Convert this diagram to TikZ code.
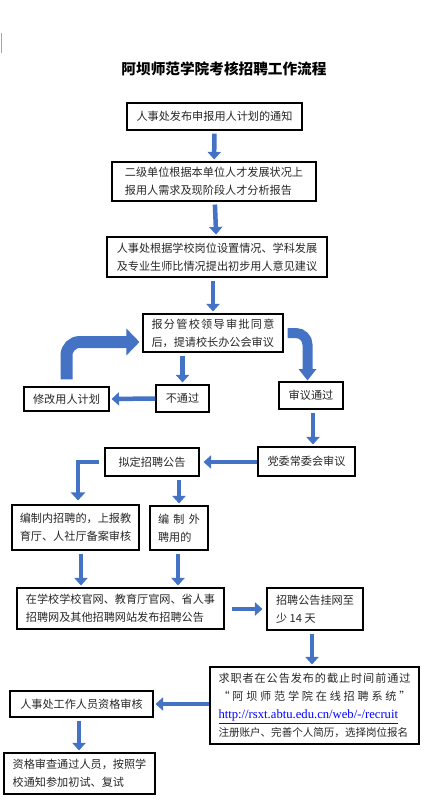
\documentclass[tikz,border=0pt]{standalone}
\usepackage{fontspec}
\usetikzlibrary{arrows.meta}
\newfontfamily\cjk{Noto Sans CJK SC}
\newfontfamily\urlfont{Liberation Serif}
\definecolor{arrowBlue}{HTML}{4472C4}
\newlength\pxu
\setlength\pxu{0.3mm}
\newcommand\spreadline[2]{\makebox[#1][s]{\spaceskip=0pt plus 1fil\relax #2}}

\begin{document}
\begin{tikzpicture}[x=\pxu,y=-\pxu,%%
  font=\cjk\fontsize{9.5}{15.3}\selectfont,%%
  boxStyle/.style={draw=black,line width=0.9pt,align=left,inner sep=0pt,text=black!85},%%
  arrowStyle/.style={draw=arrowBlue,line width=1.35mm,shorten <=3\pxu,shorten >=2\pxu,%%
    -{Triangle[width=3.9mm,length=2.25mm]}},%%
  bentLeftStyle/.style={draw=arrowBlue,line width=3.6mm,rounded corners=4mm,%%
    -{Triangle[width=7.8mm,length=3.9mm]}},%%
  bentRightStyle/.style={draw=arrowBlue,line width=3mm,rounded corners=3.5mm,%%
    -{Triangle[width=5.1mm,length=3.4mm]}},%%
  elbowStyle/.style={draw=arrowBlue,line width=1.35mm,%%
    -{Triangle[width=4.2mm,length=2.4mm]}}
]
\useasboundingbox (0,0) rectangle (444,801);
\draw[black!35,line width=0.6pt] (1.5,33) -- (1.5,53);
%%
%% Title.
\node[font=\cjk\bfseries\fontsize{12.5}{15}\selectfont] (title) at (224,69) {阿坝师范学院考核招聘工作流程};
%%
%% Main column.
\node[boxStyle,minimum width=175\pxu,minimum height=27\pxu] (notice) at (214.5,116.5)
  {人事处发布申报用人计划的通知};
\node[boxStyle,minimum width=204\pxu,minimum height=39\pxu] (report) at (214,181.5)
  {二级单位根据本单位人才发展状况上\\报用人需求及现阶段人才分析报告};
\node[boxStyle,minimum width=220\pxu,minimum height=40\pxu] (propose) at (217,257)
  {人事处根据学校岗位设置情况、学科发展\\及专业生师比情况提出初步用人意见建议};
\node[boxStyle,minimum width=140\pxu,minimum height=38\pxu] (approve) at (213,333)
  {\spreadline{123\pxu}{报 分 管 校 领 导 审 批 同 意}\\后，提请校长办公会审议};
%%
%% Rejected / passed.
\node[boxStyle,minimum width=53\pxu,minimum height=27\pxu] (reject) at (182.5,398.5) {不通过};
\node[boxStyle,minimum width=85\pxu,minimum height=24\pxu] (revise) at (66.5,399) {修改用人计划};
\node[boxStyle,minimum width=64\pxu,minimum height=27\pxu] (passed) at (311,395.5) {审议通过};
\node[boxStyle,minimum width=97\pxu,minimum height=29\pxu] (committee) at (306.5,461.5) {党委常委会审议};
\node[boxStyle,minimum width=94\pxu,minimum height=28\pxu] (draft) at (152,462) {拟定招聘公告};
%%
%% Inner and outer posts.
\node[boxStyle,minimum width=127\pxu,minimum height=45\pxu] (inner) at (75.5,527.5)
  {编制内招聘的，上报教\\育厅、人社厅备案审核};
\node[boxStyle,minimum width=58\pxu,minimum height=44\pxu] (outer) at (179,528)
  {\spreadline{42\pxu}{编 制 外}\\聘用的};
\node[boxStyle,minimum width=207\pxu,minimum height=41\pxu] (publish) at (120.5,608.5)
  {在学校学校官网、教育厅官网、省人事\\招聘网及其他招聘网站发布招聘公告};
\node[boxStyle,minimum width=96\pxu,minimum height=42\pxu] (online) at (315,609)
  {招聘公告挂网至\\少 14 天};
%%
%% Application and checks.
\node[boxStyle,minimum width=209\pxu,minimum height=77\pxu] (apply) at (314.5,705.5)
  {\spreadline{192\pxu}{求 职 者 在 公 告 发 布 的 截 止 时 间 前 通 过}\\
   \spreadline{192\pxu}{“ 阿 坝 师 范 学 院 在 线 招 聘 系 统 ”}\\
   {\urlfont\fontsize{10.8}{14}\selectfont\color{blue}\underline{http://rsxt.abtu.edu.cn/web/-/recruit}}\\
   {\fontsize{9}{14}\selectfont 注册账户、完善个人简历，选择岗位报名}};
\node[boxStyle,minimum width=143\pxu,minimum height=26\pxu] (check) at (81.5,704) {人事处工作人员资格审核};
\node[boxStyle,minimum width=151\pxu,minimum height=41\pxu] (interview) at (79.5,773.5)
  {资格审查通过人员，按照学\\校通知参加初试、复试};
%%
%% Straight arrows.
\draw[arrowStyle] (notice) -- (report);
\draw[arrowStyle] (report) -- (propose);
\draw[arrowStyle] (propose.south -| approve.north) -- (approve.north);
\draw[arrowStyle] (approve.south -| reject.north) -- (reject.north);
\draw[arrowStyle,shorten <=0pt] (reject.west) -- (revise.east);
\draw[arrowStyle] ([xshift=2\pxu]passed.south) -- ([xshift=2\pxu]passed.south |- committee.north);
\draw[arrowStyle,shorten <=0pt,shorten >=4\pxu] (committee.west |- draft.east) -- (draft.east);
\draw[arrowStyle] (outer.north |- draft.south) -- (outer.north);
\draw[arrowStyle] ([xshift=5.5\pxu]inner.south) -- ([xshift=5.5\pxu]inner.south |- publish.north);
\draw[arrowStyle] ([xshift=-1\pxu]outer.south) -- ([xshift=-1\pxu]outer.south |- publish.north);
\draw[arrowStyle,shorten >=4\pxu] ([xshift=4\pxu]publish.east |- online.west) -- (online.west);
\draw[arrowStyle] ([xshift=-3\pxu]online.south) -- ([xshift=-3\pxu]online.south |- apply.north);
\draw[arrowStyle,shorten <=0pt] (apply.west |- check.east) -- (check.east);
\draw[arrowStyle] ([xshift=-2.5\pxu]check.south) -- ([xshift=-2.5\pxu]check.south |- interview.north);
%%
%% Bent arrows.
\draw[bentLeftStyle] ([yshift=7\pxu]revise.north) |- ([xshift=-3\pxu,yshift=-9\pxu]approve.west);
\draw[bentRightStyle] ([xshift=4\pxu]approve.east) -| ([xshift=-3.5\pxu,yshift=1\pxu]passed.north);
\draw[elbowStyle] ([xshift=-5\pxu]draft.west) -| ([xshift=2.5\pxu,yshift=4\pxu]inner.north);
\end{tikzpicture}
\end{document}
